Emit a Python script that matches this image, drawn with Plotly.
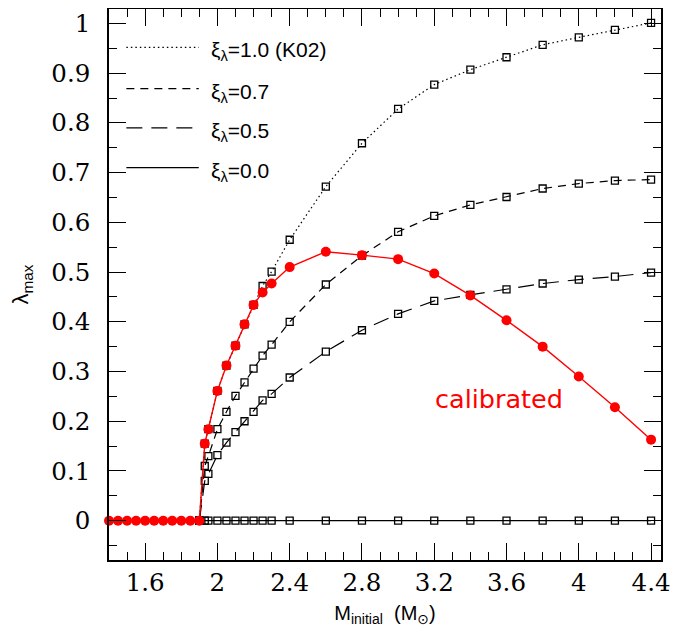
import plotly.graph_objects as go

# ---------------- data ----------------
x_cal = [1.40, 1.45, 1.50, 1.55, 1.60, 1.65, 1.70, 1.75, 1.80, 1.85, 1.90,
         1.93, 1.95, 2.00, 2.05, 2.10, 2.15, 2.20, 2.25, 2.30, 2.40,
         2.60, 2.80, 3.00, 3.20, 3.40, 3.60, 3.80, 4.00, 4.20, 4.40]
lam_cal = [0, 0, 0, 0, 0, 0, 0, 0, 0, 0, 0,
           0.155, 0.184, 0.261, 0.312, 0.352, 0.395, 0.434, 0.459, 0.477, 0.510,
           0.541, 0.534, 0.526, 0.497, 0.453, 0.403, 0.350, 0.290, 0.228, 0.163]

x_model = [1.90, 1.93, 1.95, 2.00, 2.05, 2.10, 2.15, 2.20, 2.25, 2.30, 2.40,
           2.60, 2.80, 3.00, 3.20, 3.40, 3.60, 3.80, 4.00, 4.20, 4.40]
lam_xi10 = [0, 0.155, 0.184, 0.261, 0.312, 0.352, 0.395, 0.434, 0.472, 0.501, 0.565,
            0.672, 0.759, 0.828, 0.877, 0.907, 0.932, 0.957, 0.972, 0.987, 1.001]
lam_xi07 = [0, 0.110, 0.130, 0.184, 0.219, 0.251, 0.278, 0.306, 0.332, 0.354, 0.400,
            0.475, 0.533, 0.581, 0.613, 0.635, 0.651, 0.668, 0.678, 0.684, 0.686]
lam_xi05 = [0, 0.080, 0.094, 0.132, 0.157, 0.178, 0.200, 0.219, 0.242, 0.255, 0.288,
            0.340, 0.383, 0.416, 0.442, 0.454, 0.465, 0.477, 0.485, 0.491, 0.499]
lam_xi00 = [0, 0, 0, 0, 0, 0, 0, 0, 0, 0, 0,
            0, 0, 0, 0, 0, 0, 0, 0, 0, 0]

legend_labels = ["ξ<sub>λ</sub>=1.0 (K02)", "ξ<sub>λ</sub>=0.7",
                 "ξ<sub>λ</sub>=0.5", "ξ<sub>λ</sub>=0.0"]
legend_y = [0.952, 0.869, 0.790, 0.710]

x_ticks = [1.6, 2.0, 2.4, 2.8, 3.2, 3.6, 4.0, 4.4]
x_ticktext = ["1.6", "2", "2.4", "2.8", "3.2", "3.6", "4", "4.4"]
y_ticks = [0, 0.1, 0.2, 0.3, 0.4, 0.5, 0.6, 0.7, 0.8, 0.9, 1.0]
y_ticktext = ["0", "0.1", "0.2", "0.3", "0.4", "0.5", "0.6", "0.7", "0.8", "0.9", "1"]

# ---------------- figure ----------------
dashes = ["1.5px,3px", "8px,6px", "16px,9px", "solid"]
series = [lam_xi10, lam_xi07, lam_xi05, lam_xi00]

fig = go.Figure()
for vals, d in zip(series, dashes):
    fig.add_trace(go.Scatter(
        x=x_model, y=vals, mode="lines+markers",
        line=dict(color="black", width=1.2, dash=d),
        marker=dict(symbol="square-open", size=7, color="black",
                    line=dict(width=1.3, color="black")),
        showlegend=False, cliponaxis=False))

fig.add_trace(go.Scatter(
    x=x_cal, y=lam_cal, mode="lines+markers",
    line=dict(color="#ff0000", width=1.4),
    marker=dict(symbol="circle", size=10, color="#ff0000"),
    showlegend=False, cliponaxis=False))

# manual legend
shapes = []
annotations = []
for lab, yy, d in zip(legend_labels, legend_y, dashes):
    shapes.append(dict(type="line", xref="x", yref="y", x0=1.496, x1=1.897,
                       y0=yy, y1=yy, line=dict(color="black", width=1.2, dash=d)))
    annotations.append(dict(x=1.955, y=yy - 0.008, xref="x", yref="y", text=lab,
                            showarrow=False, xanchor="left", yanchor="middle",
                            font=dict(family="Liberation Sans, DejaVu Sans", size=21,
                                      color="black")))

annotations.append(dict(x=3.561, y=0.245, xref="x", yref="y", text="calibrated",
                        showarrow=False, xanchor="center", yanchor="middle",
                        font=dict(family="DejaVu Sans", size=25.5, color="#ff0000")))

axis_common = dict(
    showgrid=False, zeroline=False, showline=True, linecolor="black", linewidth=1.6,
    mirror="allticks", ticks="inside", ticklen=17, tickwidth=1.2, tickcolor="black",
    tickfont=dict(family="DejaVu Serif", size=24.5, color="black"),
    automargin=False,
)

# the page body adds an 8px margin, so the figure is 8px smaller than the window
fig.update_layout(
    width=689, height=630,
    margin=dict(l=101, r=36, t=1, b=78),
    paper_bgcolor="white", plot_bgcolor="white",
    shapes=shapes, annotations=annotations,
    xaxis=dict(range=[1.4, 4.455], tickvals=x_ticks, ticktext=x_ticktext,
               minor=dict(dtick=0.1, tick0=1.4, ticks="inside", ticklen=8,
                          tickwidth=1.2, tickcolor="black", showgrid=False),
               title=dict(text="M<sub>initial</sub>  (M<sub>⊙</sub>)",
                          font=dict(family="Liberation Sans, DejaVu Sans", size=20,
                                    color="black"),
                          standoff=10),
               ticklabelstandoff=0,
               **axis_common),
    yaxis=dict(range=[-0.079, 1.029], tickvals=y_ticks, ticktext=y_ticktext,
               minor=dict(dtick=0.05, tick0=0, ticks="inside", ticklen=8,
                          tickwidth=1.2, tickcolor="black", showgrid=False),
               title=dict(text="λ<sub>max</sub>",
                          font=dict(family="Liberation Sans, DejaVu Sans", size=22,
                                    color="black"),
                          standoff=22),
               ticklabelstandoff=12,
               **axis_common),
)

fig.write_html("out.html")
